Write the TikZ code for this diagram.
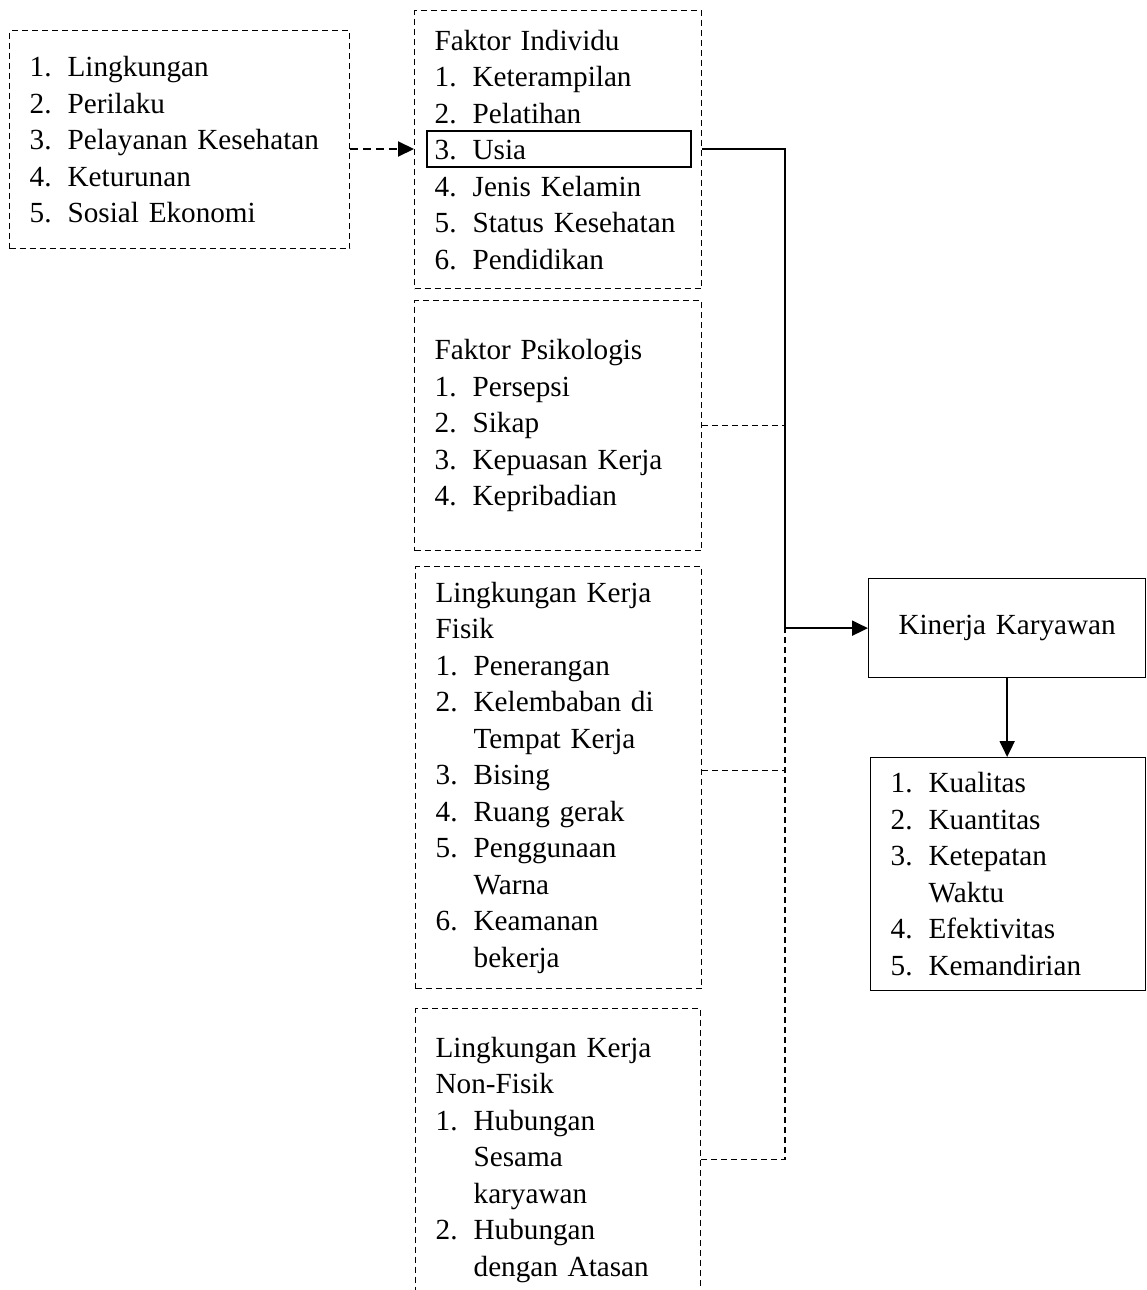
\documentclass[tikz,border=0pt]{standalone}
\usepackage{fontspec}
\setmainfont{Liberation Serif}
\usetikzlibrary{arrows.meta}
\newcommand{\nomor}[2]{\makebox[19pt][l]{#1}#2}
\newcommand{\lanjut}[1]{\hspace*{19pt}#1}
\begin{document}
\begin{tikzpicture}[x=0.5pt,y=0.5pt,
        putus/.style={dash pattern=on 3pt off 2pt,line width=.65pt},
        kotak/.style={draw,putus,anchor=north west,align=left,inner xsep=10pt,inner ysep=0pt,
            font=\fontsize{14.6}{18.25}\selectfont},
        kotakpenuh/.style={kotak,solid},
        panah/.style={line width=1pt,-{Triangle[length=8pt,width=7.5pt]}}]
    \useasboundingbox (0,0) rectangle (1146,-1290);
    % kotak kiri dan kotak faktor
    \node[kotak,text width=150pt,minimum height=109pt] (lain) at (9,-30)
        {\nomor{1.}{Lingkungan}\\\nomor{2.}{Perilaku}\\\nomor{3.}{Pelayanan Kesehatan}\\
         \nomor{4.}{Keturunan}\\\nomor{5.}{Sosial Ekonomi}};
    \node[kotak,text width=123.5pt,minimum height=139pt] (individu) at (414,-10)
        {Faktor Individu\\\nomor{1.}{Keterampilan}\\\nomor{2.}{Pelatihan}\\\nomor{3.}{Usia}\\
         \nomor{4.}{Jenis Kelamin}\\\nomor{5.}{Status Kesehatan}\\\nomor{6.}{Pendidikan}};
    \node[draw,line width=1pt,anchor=north west,inner sep=0pt,minimum width=132pt,minimum height=18pt] (usia) at (426,-130) {};
    \node[kotak,text width=123.5pt,minimum height=125pt] (psikologis) at (414,-300)
        {Faktor Psikologis\\\nomor{1.}{Persepsi}\\\nomor{2.}{Sikap}\\
         \nomor{3.}{Kepuasan Kerja}\\\nomor{4.}{Kepribadian}};
    \node[kotak,text width=123pt,minimum height=211pt] (fisik) at (415,-566)
        {Lingkungan Kerja\\Fisik\\\nomor{1.}{Penerangan}\\\nomor{2.}{Kelembaban di}\\\lanjut{Tempat Kerja}\\
         \nomor{3.}{Bising}\\\nomor{4.}{Ruang gerak}\\\nomor{5.}{Penggunaan}\\\lanjut{Warna}\\
         \nomor{6.}{Keamanan}\\\lanjut{bekerja}};
    \node[kotak,text width=122.5pt,minimum height=151pt] (nonfisik) at (415,-1008)
        {Lingkungan Kerja\\Non-Fisik\\\nomor{1.}{Hubungan}\\\lanjut{Sesama}\\\lanjut{karyawan}\\
         \nomor{2.}{Hubungan}\\\lanjut{dengan Atasan}};
    % kinerja
    \node[kotakpenuh,align=center,text width=118.5pt,minimum height=49.5pt] (kinerja) at (868,-578) {Kinerja Karyawan};
    \node[kotakpenuh,text width=117.5pt,minimum height=116.5pt] (hasil) at (870,-757)
        {\nomor{1.}{Kualitas}\\\nomor{2.}{Kuantitas}\\\nomor{3.}{Ketepatan}\\\lanjut{Waktu}\\
         \nomor{4.}{Efektivitas}\\\nomor{5.}{Kemandirian}};
    % garis penghubung
    \path (kinerja.west) ++(-83,0) coordinate (simpul);
    \draw[panah,dash pattern=on 4pt off 2.5pt] (lain.east |- usia.west) -- (individu.west |- usia.west);
    \draw[line width=.65pt] (individu.east |- usia.east) -| (simpul);
    \draw[panah] (simpul) -- (kinerja.west);
    \draw[putus] (psikologis.east) -- (psikologis.east -| simpul);
    \draw[putus] ([yshift=3.5pt]fisik.east) -- ([yshift=3.5pt]fisik.east -| simpul);
    \draw[putus] (nonfisik.east) -| (simpul);
    \draw[panah] (kinerja.south) -- (kinerja.south |- hasil.north);
\end{tikzpicture}
\end{document}
